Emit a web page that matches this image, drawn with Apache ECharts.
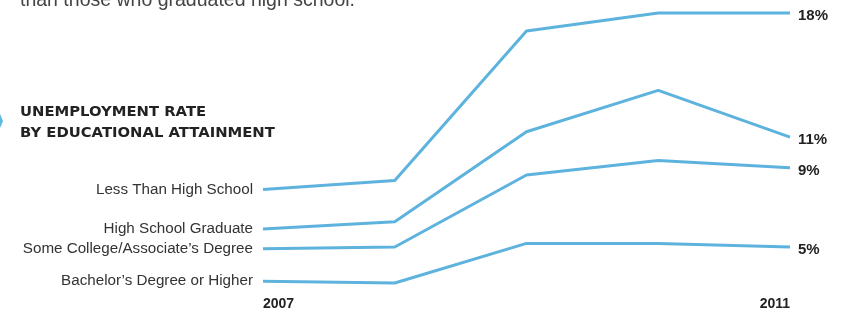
<!DOCTYPE html>
<html>
<head>
<meta charset="utf-8">
<script src="https://cdn.jsdelivr.net/npm/echarts@6/dist/echarts.min.js"></script>
<style>
  html, body { margin: 0; padding: 0; background: #fff; }
  #chart { width: 850px; height: 313px; }
</style>
</head>
<body>
<div id="chart"></div>
<script>
// 年份
var years = ['2007', '2008', '2009', '2010', '2011'];
// 各学历失业率 (%)
var lessThanHS = [8.2, 8.7, 17.0, 18.0, 18.0];
var hsGraduate = [6.0, 6.4, 11.4, 13.7, 11.1];
var someCollege = [4.9, 5.0, 9.0, 9.8, 9.4];
var bachelors = [3.1, 3.0, 5.2, 5.2, 5.0];
var seriesNames = ['Less Than High School', 'High School Graduate', 'Some College/Associate\u2019s Degree', 'Bachelor\u2019s Degree or Higher'];
var endLabels = ['18%', '11%', '9%', '5%'];
var allValues = [lessThanHS, hsGraduate, someCollege, bachelors];

var lineColor = '#5db3dd';

function makeSeries(i) {
	var vals = allValues[i];
	var data = vals.map(function(v, k) {
		if(k === 0) {
			return {
				value: v,
				label: {
					show: true,
					position: 'left',
					distance: 10,
					formatter: seriesNames[i],
					color: '#333',
					fontFamily: 'Liberation Sans',
					fontSize: 15.2
				}
			};
		}
		return v;
	});
	return {
		name: seriesNames[i],
		type: 'line',
		data: data,
		symbol: 'circle',
		symbolSize: 0,
		showSymbol: true,
		silent: true,
		lineStyle: { color: lineColor, width: 3 },
		itemStyle: { color: lineColor },
		endLabel: {
			show: true,
			distance: 8,
			offset: [0, 3],
			formatter: endLabels[i],
			color: '#222',
			fontWeight: 'bold',
			fontFamily: 'Liberation Sans',
			fontSize: 15
		}
	};
}

var myChart = echarts.init(document.getElementById('chart'));
var option = {
	animation: false,
	backgroundColor: '#fff',
	grid: { left: 263, right: 60, top: 4, bottom: 21 },
	xAxis: {
		type: 'category',
		data: years,
		boundaryGap: false,
		axisLine: { show: false },
		axisTick: { show: false },
		splitLine: { show: false },
		axisLabel: {
			interval: function(index) { return index === 0 || index === years.length - 1; },
			margin: 5,
			alignMinLabel: 'left',
			alignMaxLabel: 'right',
			color: '#222',
			fontWeight: 'bold',
			fontFamily: 'Liberation Sans',
			fontSize: 14
		}
	},
	yAxis: {
		type: 'value',
		min: 2.5,
		max: 18.5,
		show: false
	},
	graphic: [
		{
			type: 'text',
			left: 20,
			top: -9,
			style: {
				text: 'than those who graduated high school.',
				fill: '#444',
				fontFamily: 'Liberation Sans',
				fontSize: 19.5
			}
		},
		{
			type: 'text',
			left: 20,
			top: 102,
			style: {
				text: 'UNEMPLOYMENT RATE\nBY EDUCATIONAL ATTAINMENT',
				fill: '#222',
				fontWeight: 'bold',
				fontFamily: 'DejaVu Sans',
				fontSize: 14.8,
				lineHeight: 21
			}
		},
		{
			type: 'polygon',
			shape: { points: [[0, 114], [3, 121], [0, 128]] },
			style: { fill: '#5bb8e0' }
		}
	],
	series: [makeSeries(0), makeSeries(1), makeSeries(2), makeSeries(3)]
};
myChart.setOption(option);
</script>
</body>
</html>
